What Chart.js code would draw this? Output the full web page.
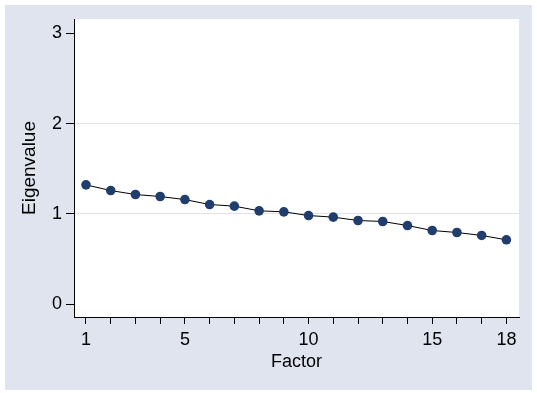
<!DOCTYPE html>
<html>
<head>
<meta charset="utf-8">
<script src="https://cdn.jsdelivr.net/npm/chart.js@4/dist/chart.umd.min.js"></script>
<style>
  html, body { margin: 0; padding: 0; background: #fff; }
  canvas { display: block; }
</style>
</head>
<body>
<canvas id="scree" width="537" height="393"></canvas>
<script>
// scree plot data
var factors = [1, 2, 3, 4, 5, 6, 7, 8, 9, 10, 11, 12, 13, 14, 15, 16, 17, 18];
var eigenvalues = [1.321, 1.258, 1.214, 1.192, 1.158, 1.103, 1.085, 1.033, 1.022,
                   0.981, 0.963, 0.926, 0.915, 0.870, 0.815, 0.793, 0.760, 0.712];
var xLabeled = [1, 5, 10, 15, 18];
var yTicks = [0, 1, 2, 3];
var yGridAt = [1, 2];

var fontFamily = "'Liberation Sans', Arial, sans-serif";

// grey graph region + white plot region
var background = {
  id: 'background',
  beforeDraw: function(chart) {
    var c = chart.ctx, a = chart.chartArea;
    c.save();
    c.fillStyle = '#fff';
    c.fillRect(0, 0, chart.width, chart.height);
    c.fillStyle = '#e0e4ef';
    c.fillRect(5, 5, 527, 385);
    c.fillStyle = '#fff';
    c.fillRect(a.left, a.top, a.right - a.left, a.bottom - a.top);
    c.restore();
  }
};

var ctx = document.getElementById('scree').getContext('2d');
var chart = new Chart(ctx, {
  type: 'line',
  data: {
    datasets: [{
      data: factors.map(function(f, i) { return {x: f, y: eigenvalues[i]}; }),
      borderColor: '#000',
      borderWidth: 1,
      pointRadius: 4.8,
      pointBackgroundColor: '#213d6e',
      pointBorderColor: '#213d6e',
      pointBorderWidth: 0,
      tension: 0
    }]
  },
  options: {
    responsive: false,
    animation: false,
    devicePixelRatio: 1,
    layout: { padding: { top: 19, right: 18, left: 0, bottom: 0 } },
    plugins: { legend: { display: false }, tooltip: { enabled: false } },
    scales: {
      x: {
        type: 'linear',
        min: 0.515,
        max: 18.51,
        afterBuildTicks: function(s) { s.ticks = factors.map(function(v) { return {value: v}; }); },
        afterFit: function(s) { s.height = 76; },
        ticks: {
          autoSkip: false,
          maxRotation: 0,
          color: '#000',
          padding: 5,
          font: { family: fontFamily, size: 18 },
          callback: function(v) { return xLabeled.indexOf(v) >= 0 ? String(v) : ''; }
        },
        grid: { drawOnChartArea: false, color: '#000', tickColor: '#000', tickLength: 7 },
        border: { color: '#000', width: 1 },
        title: {
          display: true,
          text: 'Factor',
          color: '#000',
          font: { family: fontFamily, size: 18 },
          padding: { top: 0, bottom: 20 }
        }
      },
      y: {
        min: -0.144,
        max: 3.16,
        afterBuildTicks: function(s) { s.ticks = yTicks.map(function(v) { return {value: v}; }); },
        afterFit: function(s) { s.width = 74; },
        ticks: {
          color: '#000',
          padding: 4,
          font: { family: fontFamily, size: 18 }
        },
        grid: {
          color: function(c) {
            return (c.tick && yGridAt.indexOf(c.tick.value) >= 0) ? '#dfe1ec' : 'rgba(0,0,0,0)';
          },
          tickColor: '#000',
          tickLength: 8
        },
        border: { color: '#000', width: 1 },
        title: {
          display: true,
          text: 'Eigenvalue',
          color: '#000',
          font: { family: fontFamily, size: 19 },
          padding: { top: 18, bottom: 0 }
        }
      }
    }
  },
  plugins: [background]
});
</script>
</body>
</html>
